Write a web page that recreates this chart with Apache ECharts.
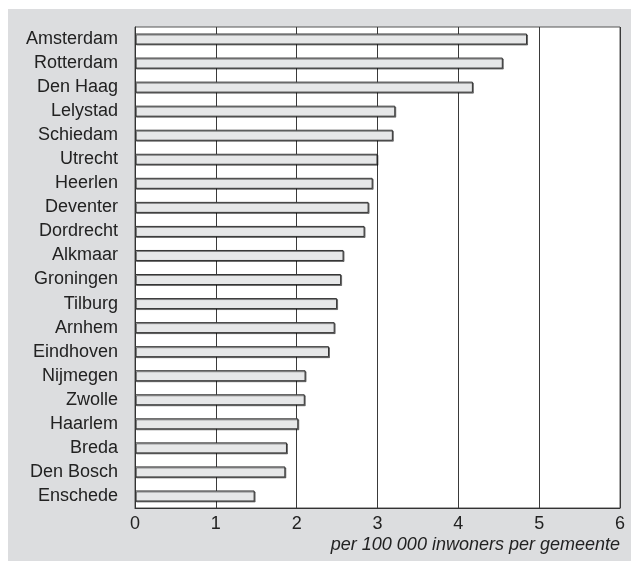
<!DOCTYPE html>
<html>
<head>
<meta charset="utf-8">
<script src="https://cdn.jsdelivr.net/npm/echarts@6/dist/echarts.min.js"></script>
<style>
  html, body { margin: 0; padding: 0; background: #fff; }
  #chart { width: 631px; height: 561px; }
</style>
</head>
<body>
<div id="chart"></div>
<script>
// Gemeenten, top to bottom
const gemeenten = [
  'Amsterdam', 'Rotterdam', 'Den Haag', 'Lelystad', 'Schiedam', 'Utrecht',
  'Heerlen', 'Deventer', 'Dordrecht', 'Alkmaar', 'Groningen', 'Tilburg',
  'Arnhem', 'Eindhoven', 'Nijmegen', 'Zwolle', 'Haarlem', 'Breda',
  'Den Bosch', 'Enschede'
];
// Waarde per 100 000 inwoners
const waarden = [
  4.85, 4.55, 4.18, 3.22, 3.19, 3.00,
  2.94, 2.89, 2.84, 2.58, 2.55, 2.50,
  2.47, 2.40, 2.11, 2.10, 2.02, 1.88,
  1.86, 1.48
];
const xTicks = [0, 1, 2, 3, 4, 5, 6];
const asTitel = 'per 100 000 inwoners per gemeente';

const chart = echarts.init(document.getElementById('chart'), null, { renderer: 'canvas' });
const font = 'Liberation Sans, Arial, sans-serif';

chart.setOption({
  animation: false,
  graphic: [{
    type: 'rect',
    z: -10,
    silent: true,
    shape: { x: 8, y: 9, width: 623, height: 552 },
    style: { fill: '#dcdddf' }
  }],
  grid: {
    left: 135, right: 11, top: 27, bottom: 53,
    show: true,
    backgroundColor: '#ffffff',
    borderColor: '#555',
    borderWidth: 1
  },
  xAxis: {
    type: 'value',
    min: xTicks[0],
    max: xTicks[xTicks.length - 1],
    interval: 1,
    axisLine: { show: true, lineStyle: { color: '#333', width: 1 } },
    axisTick: { show: false },
    splitLine: { show: true, lineStyle: { color: '#3a3a3a', width: 1 } },
    axisLabel: {
      color: '#222', fontFamily: font, fontSize: 18, margin: 7
    },
    name: asTitel,
    nameLocation: 'end',
    nameGap: 0,
    nameTextStyle: {
      color: '#222', fontFamily: font, fontSize: 18, fontStyle: 'italic',
      align: 'right', verticalAlign: 'top', padding: [28, 0, 0, 0]
    }
  },
  yAxis: {
    type: 'category',
    data: gemeenten,
    inverse: true,
    axisLine: { show: true, lineStyle: { color: '#333', width: 1 } },
    axisTick: { show: false },
    axisLabel: {
      color: '#222', fontFamily: font, fontSize: 18, margin: 17
    }
  },
  series: [{
    type: 'bar',
    data: waarden,
    barWidth: 11,
    itemStyle: {
      color: '#e6e7e8',
      borderColor: '#333',
      borderWidth: 1,
      shadowColor: 'rgba(0,0,0,0.45)',
      shadowOffsetX: 1,
      shadowOffsetY: 1,
      shadowBlur: 0
    }
  }]
});
</script>
</body>
</html>
